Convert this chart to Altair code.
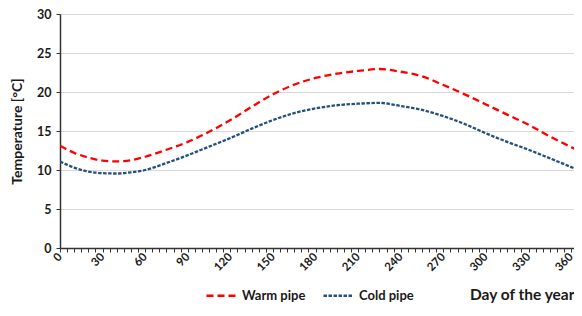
import altair as alt
import pandas as pd

days = [0, 10, 20, 30, 40, 50, 60, 75, 90, 105, 120, 135, 150, 165, 180,
        195, 210, 225, 240, 255, 270, 285, 300, 315, 330, 345, 365]
warm = [13.1, 12.2, 11.6, 11.2, 11.1, 11.25, 11.7, 12.6, 13.6, 14.9, 16.4, 18.1, 19.7, 20.95, 21.8,
        22.35, 22.7, 22.95, 22.6, 22.0, 20.9, 19.7, 18.4, 17.1, 15.8, 14.3, 12.5]
cold = [11.1, 10.3, 9.8, 9.6, 9.55, 9.7, 10.0, 10.9, 11.9, 13.0, 14.1, 15.3, 16.4, 17.3, 17.9,
        18.3, 18.5, 18.6, 18.2, 17.7, 16.9, 15.9, 14.7, 13.6, 12.6, 11.5, 10.0]
series = ["Warm pipe", "Cold pipe"]
colors = ["#ff0000", "#24507f"]
dashes = [[7, 4], [3.5, 1.5]]
x_ticks = list(range(0, 361, 5))
y_ticks = [0, 5, 10, 15, 20, 25, 30]

df = pd.DataFrame({
    "day": days + days,
    "temp": warm + cold,
    "series": [series[0]] * len(days) + [series[1]] * len(days),
})

FONT = "Lato"
TXT = "#1a1a1a"

legend = alt.Legend(
    orient="none", legendX=145, legendY=265, direction="horizontal", title=None,
    symbolType="stroke", symbolSize=900, symbolStrokeWidth=2.5,
    labelFont=FONT, labelFontWeight="bold", labelFontSize=13, labelColor=TXT,
    columnPadding=12, labelOffset=4, padding=0,
)

chart = alt.Chart(df).mark_line(interpolate="monotone", strokeWidth=2.3, clip=True).encode(
    x=alt.X("day:Q",
            scale=alt.Scale(domain=[0, 362], nice=False, zero=False),
            axis=alt.Axis(values=x_ticks,
                          labelExpr="datum.value % 30 == 0 ? datum.label : ''",
                          labelAngle=-45, labelAlign="right", labelBaseline="middle",
                          labelFontSize=11.5, labelFont=FONT, labelFontWeight="bold",
                          labelColor=TXT, labelPadding=3, labelOverlap=False, labelFlush=False,
                          tickSize=4, tickColor="#333", domainColor="#333", domainWidth=1.5,
                          grid=False,
                          title="Day of the year", titleX=514, titleY=46,
                          titleAlign="right", titleBaseline="middle",
                          titleFontSize=15.5, titleFont=FONT, titleFontWeight="bold",
                          titleColor=TXT)),
    y=alt.Y("temp:Q",
            scale=alt.Scale(domain=[0, 30], nice=False),
            axis=alt.Axis(values=y_ticks, labelFontSize=12.5, labelFont=FONT,
                          labelFontWeight="bold", labelColor=TXT, labelPadding=5,
                          tickSize=4, tickColor="#333", domainColor="#333", domainWidth=1.5,
                          grid=True, gridColor="#d9d9d9", gridWidth=1,
                          title="Temperature [°C]", titleX=-43, titleY=117, titleAngle=-90,
                          titleAlign="center", titleBaseline="middle",
                          titleFontSize=14, titleFont=FONT, titleFontWeight="bold",
                          titleColor=TXT)),
    color=alt.Color("series:N", scale=alt.Scale(domain=series, range=colors), legend=legend),
    strokeDash=alt.StrokeDash("series:N", scale=alt.Scale(domain=series, range=dashes), legend=legend),
).properties(
    width=514, height=234,
    padding={"left": 52, "top": 6, "right": 0, "bottom": 56},
    autosize=alt.AutoSizeParams(type="none"),
).configure_view(stroke=None)

chart.save("out.html", embed_options={"renderer": "svg", "actions": False})
